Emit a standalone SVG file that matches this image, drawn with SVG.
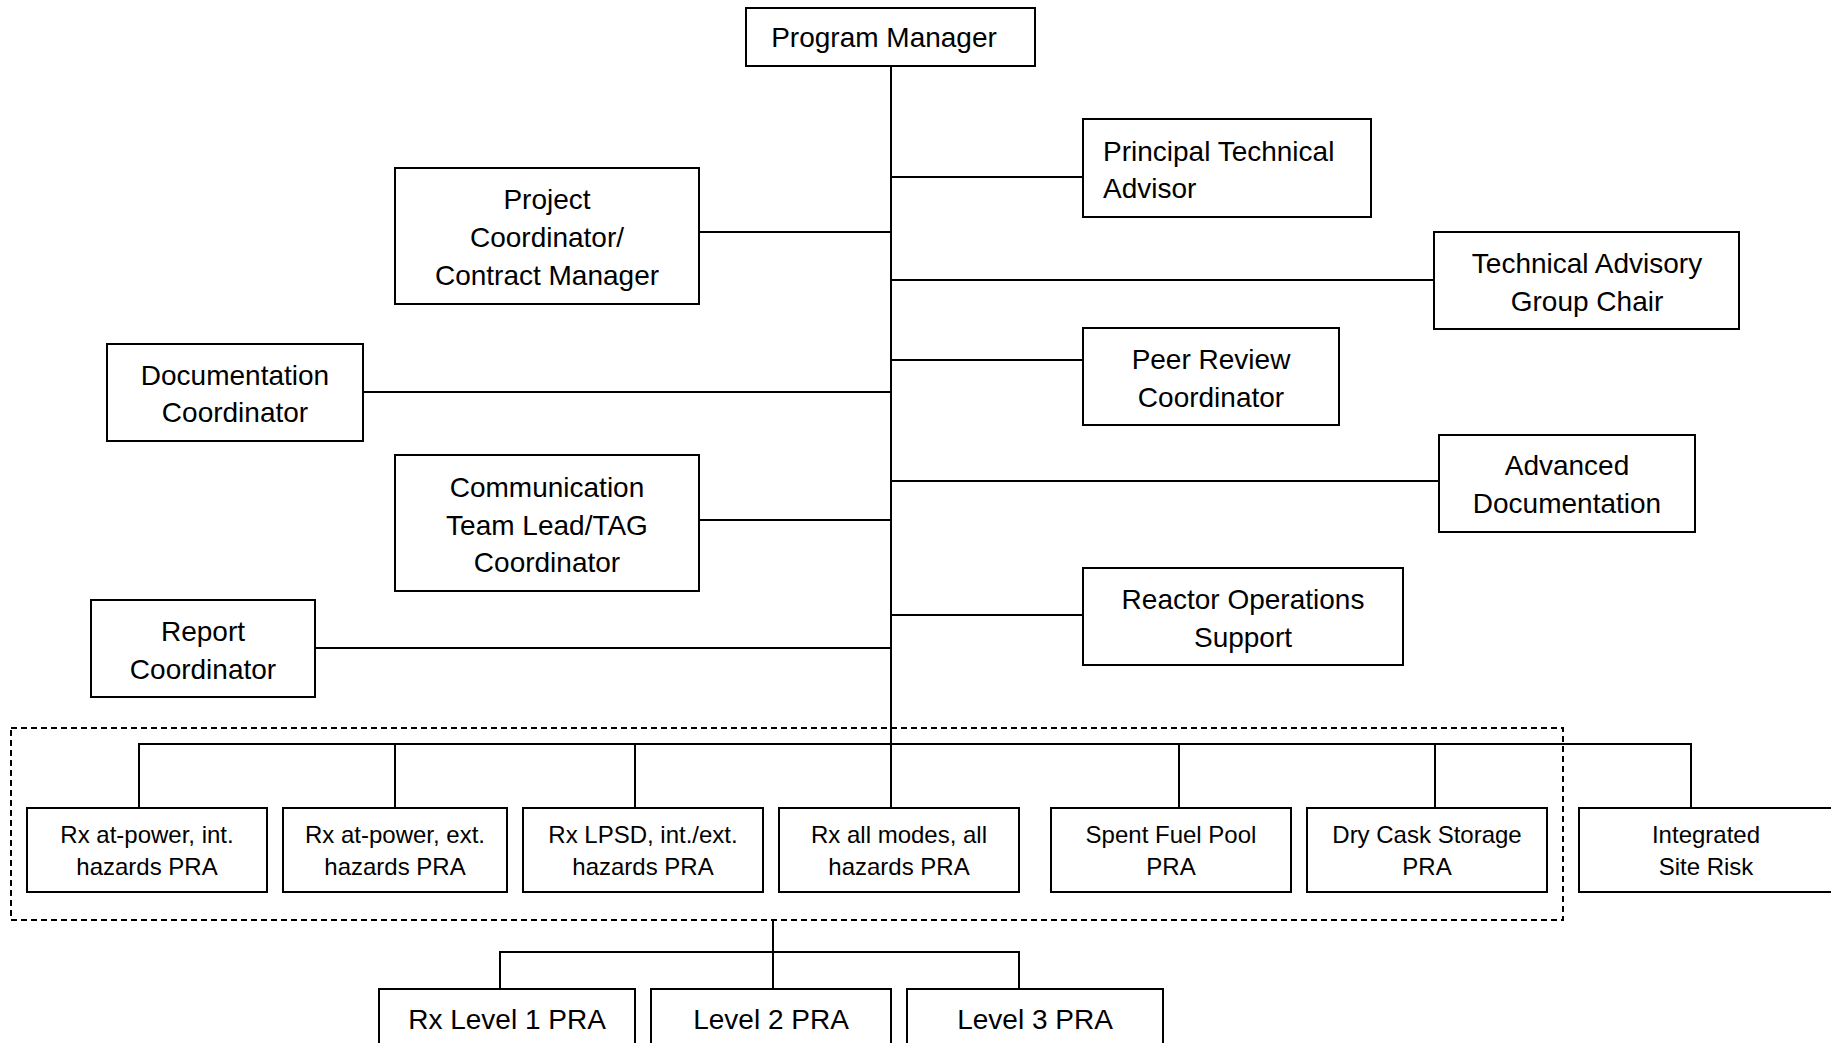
<svg xmlns="http://www.w3.org/2000/svg" width="1831" height="1043" viewBox="0 0 1831 1043">
<style>
.box{fill:#fff;stroke:#000;stroke-width:2}
.ln{stroke:#000;stroke-width:2;fill:none}
.dash{stroke:#000;stroke-width:2;fill:none;stroke-dasharray:6 4}
text{font-family:"Liberation Sans",Arial,sans-serif;fill:#000}
.L{font-size:28px;text-anchor:middle}
.La{font-size:28px;text-anchor:start}
.S{font-size:24px;text-anchor:middle}
</style>
<rect width="1831" height="1043" fill="#fff"/>
<g id="connectors">
<line class="ln" x1="891" y1="66" x2="891" y2="808"/>
<line class="ln" x1="891" y1="177" x2="1083" y2="177"/>
<line class="ln" x1="699" y1="232" x2="891" y2="232"/>
<line class="ln" x1="891" y1="280" x2="1434" y2="280"/>
<line class="ln" x1="891" y1="360" x2="1083" y2="360"/>
<line class="ln" x1="363" y1="392" x2="891" y2="392"/>
<line class="ln" x1="891" y1="481" x2="1439" y2="481"/>
<line class="ln" x1="699" y1="520" x2="891" y2="520"/>
<line class="ln" x1="891" y1="615" x2="1083" y2="615"/>
<line class="ln" x1="315" y1="648" x2="891" y2="648"/>
<polyline class="ln" points="139,808 139,744 1691,744 1691,808"/>
<line class="ln" x1="395" y1="744" x2="395" y2="808"/>
<line class="ln" x1="635" y1="744" x2="635" y2="808"/>
<line class="ln" x1="1179" y1="744" x2="1179" y2="808"/>
<line class="ln" x1="1435" y1="744" x2="1435" y2="808"/>
<line class="ln" x1="773" y1="920" x2="773" y2="989"/>
<polyline class="ln" points="500,989 500,952 1019,952 1019,989"/>
<rect class="dash" x="11" y="728" width="1552" height="192"/>
</g>
<g id="program-manager"><rect class="box" x="746" y="8" width="289" height="58"/><text class="L" x="884" y="47">Program Manager</text></g>
<g id="principal-technical-advisor"><rect class="box" x="1083" y="119" width="288" height="98"/><text class="La" x="1103" y="161">Principal Technical</text><text class="La" x="1103" y="198">Advisor</text></g>
<g id="project-coordinator"><rect class="box" x="395" y="168" width="304" height="136"/><text class="L" x="547" y="209">Project</text><text class="L" x="547" y="247">Coordinator/</text><text class="L" x="547" y="285">Contract Manager</text></g>
<g id="tag-chair"><rect class="box" x="1434" y="232" width="305" height="97"/><text class="L" x="1587" y="273">Technical Advisory</text><text class="L" x="1587" y="311">Group Chair</text></g>
<g id="peer-review-coordinator"><rect class="box" x="1083" y="328" width="256" height="97"/><text class="L" x="1211" y="369">Peer Review</text><text class="L" x="1211" y="407">Coordinator</text></g>
<g id="documentation-coordinator"><rect class="box" x="107" y="344" width="256" height="97"/><text class="L" x="235" y="385">Documentation</text><text class="L" x="235" y="422">Coordinator</text></g>
<g id="advanced-documentation"><rect class="box" x="1439" y="435" width="256" height="97"/><text class="L" x="1567" y="475">Advanced</text><text class="L" x="1567" y="513">Documentation</text></g>
<g id="communication-team-lead"><rect class="box" x="395" y="455" width="304" height="136"/><text class="L" x="547" y="497">Communication</text><text class="L" x="547" y="535">Team Lead/TAG</text><text class="L" x="547" y="572">Coordinator</text></g>
<g id="reactor-operations-support"><rect class="box" x="1083" y="568" width="320" height="97"/><text class="L" x="1243" y="609">Reactor Operations</text><text class="L" x="1243" y="647">Support</text></g>
<g id="report-coordinator"><rect class="box" x="91" y="600" width="224" height="97"/><text class="L" x="203" y="641">Report</text><text class="L" x="203" y="679">Coordinator</text></g>
<g id="rx-at-power-int"><rect class="box" x="27" y="808" width="240" height="84"/><text class="S" x="147" y="843">Rx at-power, int.</text><text class="S" x="147" y="875">hazards PRA</text></g>
<g id="rx-at-power-ext"><rect class="box" x="283" y="808" width="224" height="84"/><text class="S" x="395" y="843">Rx at-power, ext.</text><text class="S" x="395" y="875">hazards PRA</text></g>
<g id="rx-lpsd"><rect class="box" x="523" y="808" width="240" height="84"/><text class="S" x="643" y="843">Rx LPSD, int./ext.</text><text class="S" x="643" y="875">hazards PRA</text></g>
<g id="rx-all-modes"><rect class="box" x="779" y="808" width="240" height="84"/><text class="S" x="899" y="843">Rx all modes, all</text><text class="S" x="899" y="875">hazards PRA</text></g>
<g id="spent-fuel-pool"><rect class="box" x="1051" y="808" width="240" height="84"/><text class="S" x="1171" y="843">Spent Fuel Pool</text><text class="S" x="1171" y="875">PRA</text></g>
<g id="dry-cask-storage"><rect class="box" x="1307" y="808" width="240" height="84"/><text class="S" x="1427" y="843">Dry Cask Storage</text><text class="S" x="1427" y="875">PRA</text></g>
<g id="integrated-site-risk"><rect class="box" x="1579" y="808" width="254" height="84"/><text class="S" x="1706" y="843">Integrated</text><text class="S" x="1706" y="875">Site Risk</text></g>
<g id="rx-level-1"><rect class="box" x="379" y="989" width="256" height="70"/><text class="L" x="507" y="1029">Rx Level 1 PRA</text></g>
<g id="level-2"><rect class="box" x="651" y="989" width="240" height="70"/><text class="L" x="771" y="1029">Level 2 PRA</text></g>
<g id="level-3"><rect class="box" x="907" y="989" width="256" height="70"/><text class="L" x="1035" y="1029">Level 3 PRA</text></g>
</svg>
